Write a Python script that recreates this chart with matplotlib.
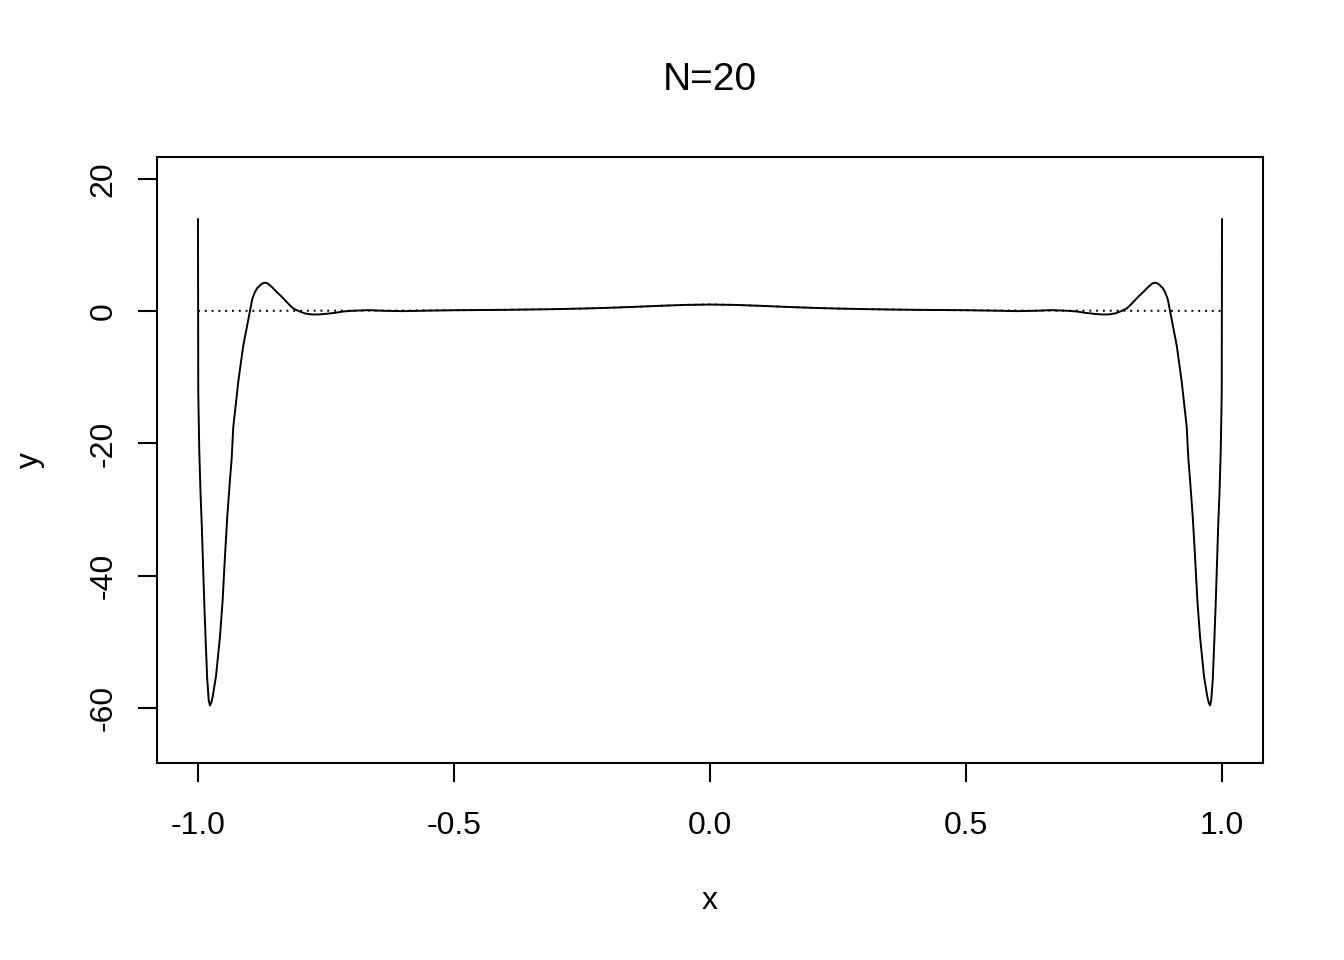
import numpy as np
import matplotlib
matplotlib.use('Agg')
import matplotlib.pyplot as plt

plt.rcParams['font.family'] = ['Liberation Sans', 'DejaVu Sans']

# interpolating polynomial, N=20
x_interp = [-1.0, -0.9994, -0.9975, -0.995, -0.9925, -0.99, -0.9875, -0.985, -0.982,
            -0.979, -0.9766, -0.974, -0.9713, -0.9648, -0.957, -0.9518, -0.9473,
            -0.9428, -0.9375, -0.9342, -0.931, -0.921, -0.9115, -0.905, -0.8984,
            -0.894, -0.8887, -0.884, -0.8789, -0.874, -0.8691, -0.864, -0.8594,
            -0.855, -0.8463, -0.838, -0.830, -0.822, -0.8139, -0.803, -0.791,
            -0.778, -0.765, -0.749, -0.7324, -0.716, -0.6998, -0.6674, -0.6348,
            -0.60, -0.55, -0.5, -0.45, -0.4, -0.35, -0.3,
            -0.25, -0.2, -0.15, -0.1, -0.05, 0.0,
            0.05, 0.1, 0.15, 0.2, 0.25, 0.3, 0.35, 0.4, 0.45, 0.5, 0.55, 0.60,
            0.6348, 0.6674, 0.6998, 0.716, 0.7324, 0.749, 0.765, 0.778, 0.791,
            0.803, 0.8139, 0.822, 0.830, 0.838, 0.8463, 0.855, 0.8594, 0.864,
            0.8691, 0.874, 0.8789, 0.884, 0.8887, 0.894, 0.8984, 0.905, 0.9115,
            0.921, 0.931, 0.9342, 0.9375, 0.9428, 0.9473, 0.9518, 0.957, 0.9648,
            0.9713, 0.974, 0.9766, 0.979, 0.982, 0.985, 0.9875, 0.99, 0.9925,
            0.995, 0.9975, 0.9994, 1.0]
y_interp = [13.9, -12.3, -21.0, -27.5, -32.5, -38.5, -44.5, -49.7, -55.5,
            -58.8, -59.6, -59.2, -58.3, -55.2, -49.2, -43.7, -37.1,
            -31.1, -25.5, -22.3, -17.5, -10.5, -5.2, -2.6, 0.05,
            1.8, 2.9, 3.5, 3.9, 4.2, 4.3, 4.2, 3.9,
            3.6, 2.9, 2.3, 1.66, 1.0, 0.4, 0.0, -0.35,
            -0.5, -0.5, -0.4, -0.25, -0.05, 0.05, 0.15, 0.05,
            0.0, 0.08, 0.14, 0.17, 0.2, 0.25, 0.31,
            0.39, 0.5, 0.64, 0.8, 0.94, 1.0,
            0.94, 0.8, 0.64, 0.5, 0.39, 0.31, 0.25, 0.2, 0.17, 0.14, 0.08, 0.0,
            0.05, 0.15, 0.05, -0.05, -0.25, -0.4, -0.5, -0.5, -0.35,
            0.0, 0.4, 1.0, 1.66, 2.3, 2.9, 3.6, 3.9, 4.2,
            4.3, 4.2, 3.9, 3.5, 2.9, 1.8, 0.05, -2.6, -5.2,
            -10.5, -17.5, -22.3, -25.5, -31.1, -37.1, -43.7, -49.2, -55.2,
            -58.3, -59.2, -59.6, -58.8, -55.5, -49.7, -44.5, -38.5, -32.5,
            -27.5, -21.0, -12.3, 13.9]

# true function (dotted)
x_true = [-1.0, -0.9, -0.8, -0.7, -0.6, -0.5, -0.4, -0.3, -0.25, -0.2, -0.15, -0.1,
          -0.05, 0.0, 0.05, 0.1, 0.15, 0.2, 0.25, 0.3, 0.4, 0.5, 0.6, 0.7, 0.8, 0.9, 1.0]
y_true = [0.038, 0.047, 0.059, 0.075, 0.1, 0.138, 0.2, 0.308, 0.39, 0.5, 0.64, 0.8,
          0.94, 1.0, 0.94, 0.8, 0.64, 0.5, 0.39, 0.308, 0.2, 0.138, 0.1, 0.075, 0.059,
          0.047, 0.038]

xticks = [-1.0, -0.5, 0.0, 0.5, 1.0]
yticks = [-60, -40, -20, 0, 20]

fig = plt.figure(figsize=(13.44, 9.6), dpi=100)
ax = fig.add_axes([157/1344, 1-763/960, (1263-157)/1344, (763-157)/960])

ax.plot(x_interp, y_interp, color='black', lw=1.4)
ax.plot(x_true, y_true, color='black', lw=1.4, linestyle=(0, (1, 2.5)))

ax.set_xlim(-1.08, 1.08)
ax.set_ylim(-68.3, 23.3)
ax.set_xticks(xticks)
ax.set_xticklabels(['-1.0', '-0.5', '0.0', '0.5', '1.0'])
ax.set_yticks(yticks)
ax.set_yticklabels([str(v) for v in yticks], rotation=90, va='center')

for s in ax.spines.values():
    s.set_linewidth(1.5)
ax.tick_params(length=13.7, width=1.5, labelsize=23, pad=21, direction='out')
ax.tick_params(axis='y', pad=14)

fig.text(710/1344, 1-80/960, 'N=20', ha='center', va='center', fontsize=28)
fig.text(710/1344, 1-901/960, 'x', ha='center', va='center', fontsize=23)
fig.text(30/1344, 1-460/960, 'y', ha='center', va='center', fontsize=23, rotation=90)

fig.savefig('out.png', dpi=100)
